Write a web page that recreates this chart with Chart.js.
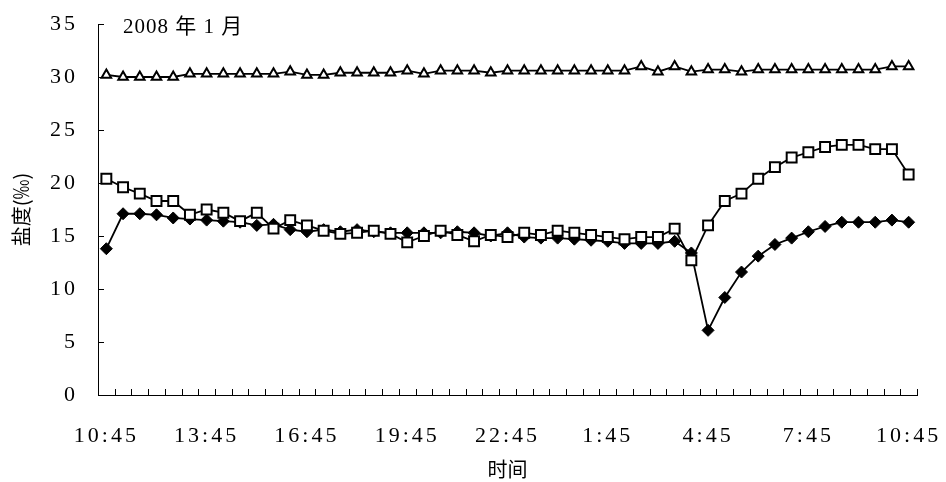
<!DOCTYPE html>
<html>
<head>
<meta charset="utf-8">
<title>盐度</title>
<script src="https://cdn.jsdelivr.net/npm/chart.js@4.4.1/dist/chart.umd.min.js"></script>
<style>
  html, body { margin: 0; padding: 0; background: #fff; }
  #wrap { width: 946px; height: 482px; position: relative; }
</style>
</head>
<body>
<div id="wrap"><canvas id="salinityChart"></canvas></div>
<script>
// 盐度 time series, 2008-01, one reading every 30 min

const timeLabels = [
  "10:45", "11:15", "11:45", "12:15", "12:45", "13:15", "13:45", "14:15", "14:45", "15:15",
  "15:45", "16:15", "16:45", "17:15", "17:45", "18:15", "18:45", "19:15", "19:45", "20:15",
  "20:45", "21:15", "21:45", "22:15", "22:45", "23:15", "23:45", "0:15", "0:45", "1:15",
  "1:45", "2:15", "2:45", "3:15", "3:45", "4:15", "4:45", "5:15", "5:45", "6:15",
  "6:45", "7:15", "7:45", "8:15", "8:45", "9:15", "9:45", "10:15", "10:45"
];
const shownTicks = ["10:45", "13:45", "16:45", "19:45", "22:45", "1:45", "4:45", "7:45"];
const yTicks = [0, 5, 10, 15, 20, 25, 30, 35];

// open triangles
const triangleSeries = [
  30.2, 30.0, 30.0, 30.0, 30.0, 30.3, 30.3, 30.3, 30.3, 30.3,
  30.3, 30.5, 30.2, 30.2, 30.4, 30.4, 30.4, 30.4, 30.6, 30.3,
  30.6, 30.6, 30.6, 30.4, 30.6, 30.6, 30.6, 30.6, 30.6, 30.6,
  30.6, 30.6, 31.0, 30.5, 31.0, 30.5, 30.7, 30.7, 30.5, 30.7,
  30.7, 30.7, 30.7, 30.7, 30.7, 30.7, 30.7, 31.0, 31.0
];
// open squares
const squareSeries = [
  20.4, 19.6, 19.0, 18.3, 18.3, 17.0, 17.5, 17.2, 16.4, 17.2,
  15.7, 16.5, 16.0, 15.5, 15.2, 15.3, 15.5, 15.2, 14.4, 15.0,
  15.5, 15.1, 14.5, 15.1, 14.9, 15.3, 15.1, 15.5, 15.3, 15.1,
  14.9, 14.7, 14.9, 14.9, 15.7, 12.7, 16.0, 18.3, 19.0, 20.4,
  21.5, 22.4, 22.9, 23.4, 23.6, 23.6, 23.2, 23.2, 20.8
];
// filled diamonds
const diamondSeries = [
  13.8, 17.1, 17.1, 17.0, 16.7, 16.6, 16.5, 16.4, 16.3, 16.0,
  16.1, 15.6, 15.4, 15.6, 15.4, 15.6, 15.4, 15.3, 15.3, 15.3,
  15.3, 15.4, 15.3, 15.0, 15.3, 14.9, 14.8, 14.8, 14.7, 14.6,
  14.5, 14.3, 14.3, 14.3, 14.5, 13.4, 6.1, 9.2, 11.6, 13.1,
  14.2, 14.8, 15.4, 15.9, 16.3, 16.3, 16.3, 16.5, 16.3
];

const serif = "'Liberation Serif', 'Times New Roman', serif";
const cjk = "'Liberation Serif', 'Noto Sans CJK SC', sans-serif";
const tickLen = 6;

// inward tick marks, wide spacing on tick numbers, hand-drawn titles
const axisBits = {
  id: "axisBits",
  beforeDraw(chart) {
    chart.ctx.letterSpacing = "3px";
  },
  afterDraw(chart) {
    const { ctx, chartArea, scales } = chart;
    const y = scales.y;
    const axisY = Math.round(chartArea.bottom);
    const axisX = Math.round(chartArea.left);

    ctx.save();
    ctx.fillStyle = "#000";
    const n = timeLabels.length;
    const step = (chartArea.right - chartArea.left) / n;
    for (let k = 0; k <= n; k++) {
      const px = Math.round(chartArea.left + k * step);
      ctx.fillRect(px, axisY - tickLen, 1, tickLen);
    }
    yTicks.forEach(v => {
      const py = Math.round(y.getPixelForValue(v));
      ctx.fillRect(axisX, py, tickLen, 1);
    });
    ctx.restore();

    ctx.save();
    ctx.letterSpacing = "0px";
    ctx.fillStyle = "#000";
    ctx.font = "20px 'Noto Sans CJK SC', sans-serif";
    ctx.textAlign = "center";
    ctx.textBaseline = "middle";
    ctx.fillText("时间", (chartArea.left + chartArea.right) / 2, 469);
    ctx.translate(21, (chartArea.top + chartArea.bottom) / 2);
    ctx.rotate(-Math.PI / 2);
    ctx.fillText("盐度(‰)", 0, 0);
    ctx.restore();

    ctx.save();
    ctx.letterSpacing = "1px";
    ctx.fillStyle = "#000";
    ctx.font = "21px " + cjk;
    ctx.textAlign = "left";
    ctx.textBaseline = "middle";
    ctx.fillText("2008 年 1 月", chartArea.left + 25, y.getPixelForValue(yTicks[yTicks.length - 1]) + 3);
    ctx.restore();
  }
};

function line(data, style, radius, fill, bw) {
  return {
    data: data,
    borderColor: "#000",
    borderWidth: 1.8,
    pointStyle: style,
    pointRadius: radius,
    pointHoverRadius: radius,
    pointBackgroundColor: fill,
    pointBorderColor: "#000",
    pointBorderWidth: bw,
    tension: 0,
    fill: false
  };
}

new Chart(document.getElementById("salinityChart"), {
  type: "line",
  data: {
    labels: timeLabels,
    datasets: [
      line(squareSeries, "rect", 7, "#fff", 2),
      line(diamondSeries, "rectRot", 6, "#000", 1),
      line(triangleSeries, "triangle", 5.5, "#fff", 2)
    ]
  },
  options: {
    responsive: true,
    maintainAspectRatio: false,
    animation: false,
    layout: { padding: { top: 24, right: 29, left: 0, bottom: 0 } },
    plugins: { legend: { display: false }, tooltip: { enabled: false } },
    scales: {
      x: {
        type: "category",
        offset: true,
        grid: { display: false, drawTicks: false },
        border: { display: true, color: "#000", width: 1 },
        ticks: {
          autoSkip: false,
          maxRotation: 0,
          minRotation: 0,
          padding: 28,
          color: "#000",
          font: { family: serif, size: 22 },
          callback: (v, i) => shownTicks.includes(timeLabels[i]) ? timeLabels[i] : ""
        },
        afterFit: s => {
          s.height = 87;
          s.paddingLeft = 0;
          s.paddingRight = 0;
        }
      },
      y: {
        min: yTicks[0],
        max: yTicks[yTicks.length - 1],
        grid: { display: false, drawTicks: false },
        border: { display: true, color: "#000", width: 1 },
        ticks: {
          stepSize: yTicks[1] - yTicks[0],
          padding: 20,
          color: "#000",
          font: { family: serif, size: 22 }
        },
        afterFit: s => {
          s.width = 98;
          s.paddingTop = 0;
          s.paddingBottom = 0;
        }
      }
    }
  },
  plugins: [axisBits]
});
</script>
</body>
</html>
